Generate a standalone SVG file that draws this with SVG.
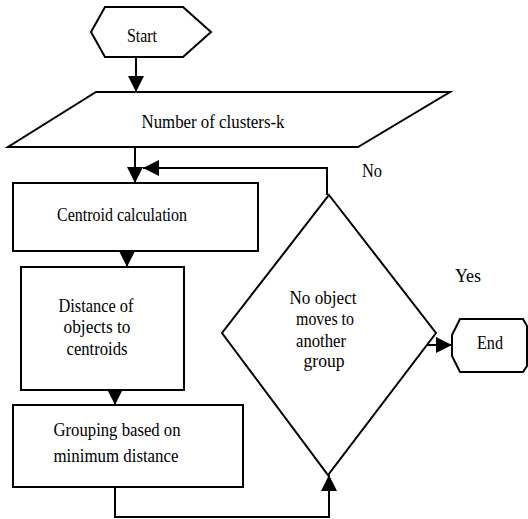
<svg xmlns="http://www.w3.org/2000/svg" width="528" height="519" viewBox="0 0 528 519">
<defs>
<marker id="ah" markerUnits="userSpaceOnUse" markerWidth="16" markerHeight="16" viewBox="0 0 16 16" refX="16" refY="8" orient="auto">
<path d="M0,0 L16,8 L0,16 Z" fill="#000"/>
</marker>
<style>
.s{fill:#fff;stroke:#000;stroke-width:2;stroke-linejoin:miter}
.c{fill:none;stroke:#000;stroke-width:2;marker-end:url(#ah)}
.t{font-family:"Liberation Serif","Times New Roman",serif;font-size:19px;fill:#000;text-anchor:middle}
</style>
</defs>
<rect width="528" height="519" fill="#fff"/>
<g id="connectors">
<line class="c" x1="136" y1="57" x2="136" y2="92"/>
<line class="c" x1="135" y1="147" x2="135" y2="183"/>
<polyline class="c" points="327,195 327,168 143,168"/>
<line class="c" x1="127" y1="251" x2="127" y2="267"/>
<line class="c" x1="115" y1="390" x2="115" y2="405"/>
<polyline class="c" points="115,482 115,517 329,517 329,475"/>
<line class="c" x1="427" y1="345" x2="452" y2="345"/>
</g>
<g id="start">
<polygon class="s" points="105,7 183,7 211,32 183,57 105,57 91,32"/>
<text class="t" x="142" y="42" textLength="30" lengthAdjust="spacingAndGlyphs">Start</text>
</g>
<g id="input">
<polygon class="s" points="96,92 450,92 358,147 8,147"/>
<text class="t" x="213" y="128" textLength="143" lengthAdjust="spacingAndGlyphs">Number of clusters-k</text>
</g>
<g id="centroid">
<rect class="s" x="13" y="183" width="245" height="68"/>
<text class="t" x="122" y="221" textLength="130" lengthAdjust="spacingAndGlyphs">Centroid calculation</text>
</g>
<g id="distance">
<rect class="s" x="21" y="267" width="163" height="123"/>
<text class="t" x="96" y="312" textLength="75" lengthAdjust="spacingAndGlyphs">Distance of</text>
<text class="t" x="97" y="333" textLength="67" lengthAdjust="spacingAndGlyphs">objects to</text>
<text class="t" x="97" y="355" textLength="61" lengthAdjust="spacingAndGlyphs">centroids</text>
</g>
<g id="grouping">
<rect class="s" x="13" y="405" width="230" height="82"/>
<text class="t" x="117" y="436" textLength="127" lengthAdjust="spacingAndGlyphs">Grouping based on</text>
<text class="t" x="116" y="462" textLength="125" lengthAdjust="spacingAndGlyphs">minimum distance</text>
</g>
<g id="decision">
<polygon class="s" points="329,195 436,333 328,475 222,333"/>
<text class="t" x="323" y="304" textLength="67" lengthAdjust="spacingAndGlyphs">No object</text>
<text class="t" x="325" y="325" textLength="58" lengthAdjust="spacingAndGlyphs">moves to</text>
<text class="t" x="321" y="347" textLength="50" lengthAdjust="spacingAndGlyphs">another</text>
<text class="t" x="324" y="367" textLength="41" lengthAdjust="spacingAndGlyphs">group</text>
</g>
<g id="labels">
<text class="t" x="372" y="177" textLength="20" lengthAdjust="spacingAndGlyphs">No</text>
<text class="t" x="468" y="282" textLength="26" lengthAdjust="spacingAndGlyphs">Yes</text>
</g>
<g id="end">
<polygon class="s" points="460,319 523,319 527,326 527,366 523,372 460,372 452,356 452,335"/>
<text class="t" x="490" y="349" textLength="26" lengthAdjust="spacingAndGlyphs">End</text>
</g>
</svg>
